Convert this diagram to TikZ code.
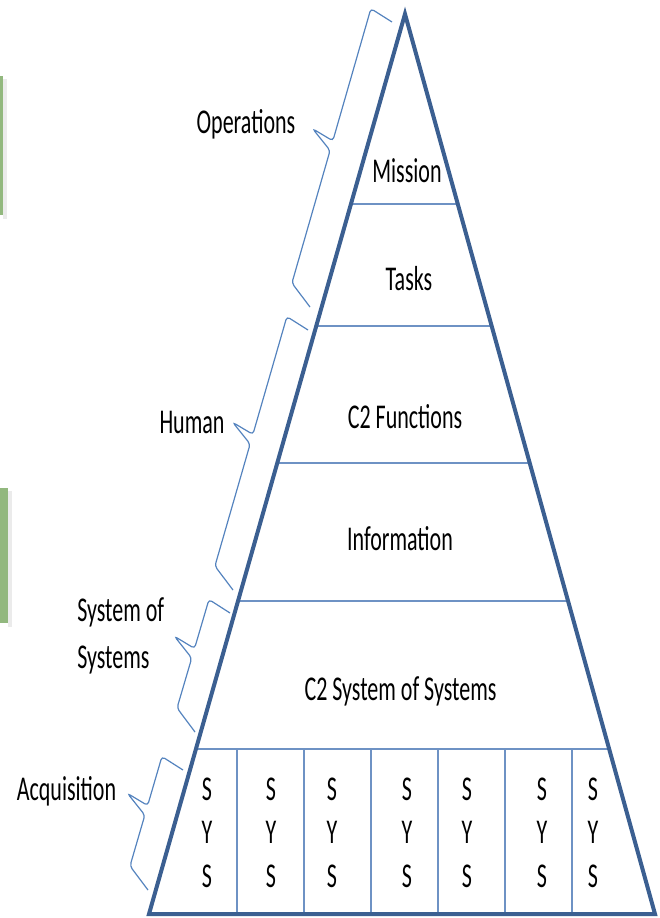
\documentclass[tikz,border=0pt]{standalone}
\usepackage{fontspec}
\setmainfont{Carlito}
\usetikzlibrary{calc}

\definecolor{edgeblue}{RGB}{59,95,145}
\definecolor{lineblue}{RGB}{110,146,196}
\definecolor{braceblue}{RGB}{84,131,190}
\definecolor{bargreen}{RGB}{146,184,126}

\tikzset{
    pyramid/.style = {
        draw=edgeblue,
        line width=3pt,
        line join=miter
    },
    tier line/.style = {
        draw=lineblue,
        line width=1.1pt
    },
    brace line/.style = {
        draw=braceblue,
        line width=0.9pt,
        rounded corners=2.5pt
    },
    tiertext/.style = {
        anchor=base,
        inner sep=0pt,
        font=\fontsize{16.5}{22}\selectfont,
        yscale=1.58
    },
    green bar/.style = {
        fill=bargreen
    },
    bar shadow/.style = {
        fill=black!8
    }
}

% brace beside the pyramid, from (#1) up to (#2), tip at #3 along it
\newcommand{\sidebrace}[3]{%
    \draw [brace line] (#1)
        -- ($(#1)!13.5pt!(#2)!18pt!90:(#2)$)
        -- ($(#1)!{#3-3.75pt}!(#2)!18pt!90:(#2)$)
        -- ($(#1)!{#3+8.25pt}!(#2)!35pt!90:(#2)$)
        -- ($(#1)!{#3+3.75pt}!(#2)!18pt!90:(#2)$)
        -- ($(#2)!-5.25pt!(#1)!18pt!-90:(#1)$)
        -- (#2);
}

\begin{document}
\begin{tikzpicture}[x=0.75pt, y=-0.75pt]
\useasboundingbox (0,0) rectangle (660,918);

% bars cut by the left edge
\fill [bar shadow] (3,79) rectangle (7,219);
\fill [green bar] (0,76) rectangle (3,215);
\fill [bar shadow] (8,491) rectangle (12,627);
\fill [green bar] (0,488) rectangle (8,623);

\coordinate (apex) at (405,14);
\coordinate (bl) at (149,914);
\coordinate (br) at (655,914);

% tiers and the system columns
\foreach \f in {0.2111,0.3467,0.4989,0.6522,0.8167}
    \draw [tier line] ($(apex)!\f!(bl)$) -- ($(apex)!\f!(br)$);
\foreach \x in {237,304,371,438,505,572}
    \draw [tier line] (\x,749) -- (\x,914);

\draw [pyramid] (apex) -- (bl) -- (br) -- cycle;

\node (mission) [tiertext] at (407,182) {Mission};
\node (tasks) [tiertext] at (409,290) {Tasks};
\node (functions) [tiertext] at (405,428) {C2 Functions};
\node (information) [tiertext] at (400,550) {Information};
\node (sos) [tiertext] at (400.5,700) {C2 System of Systems};
\foreach \x [count=\i] in {207,271,332,407,467,542,593}
    \node (sys\i) [tiertext, anchor=center, align=center,
        font=\fontsize{16.5}{20.6}\selectfont] at (\x,832.5) {S\\Y\\S};

% side braces and their labels
\coordinate (ops bot) at (310,307);
\coordinate (ops top) at (392,22);
\coordinate (hum bot) at (233,590);
\coordinate (hum top) at (308,330);
\coordinate (sys bot) at (195,732);
\coordinate (sys top) at (230,613);
\coordinate (acq bot) at (148,890);
\coordinate (acq top) at (183,770);

\sidebrace{ops bot}{ops top}{120.75pt}
\sidebrace{hum bot}{hum top}{112.5pt}
\sidebrace{sys bot}{sys top}{56.25pt}
\sidebrace{acq bot}{acq top}{57pt}

\node (operations) [tiertext] at (246,133) {Operations};
\node (human) [tiertext] at (192,433) {Human};
\node (system) [tiertext, anchor=west, align=left] at (77,636) {System of\\Systems};
\node (acquisition) [tiertext] at (66.5,800) {Acquisition};
\end{tikzpicture}
\end{document}
